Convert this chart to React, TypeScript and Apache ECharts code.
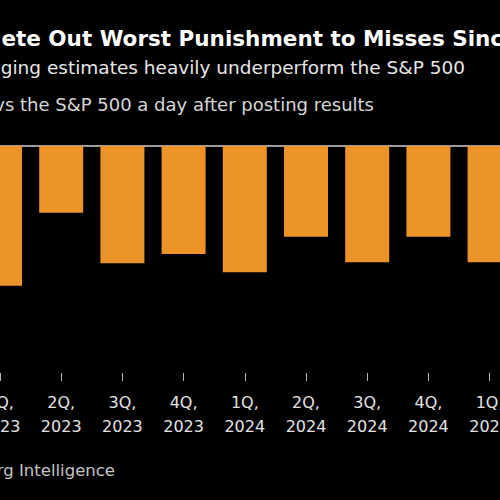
// App.tsx
import React, { useEffect, useRef } from "react";
import * as echarts from "echarts";

const quarters = ["1Q", "2Q", "3Q", "4Q", "1Q", "2Q", "3Q", "4Q", "1Q"];
const years = ["2023", "2023", "2023", "2023", "2024", "2024", "2024", "2024", "2025"];
// next-day performance vs the S&P 500 of companies missing estimates (%)
const relativeMove = [-3.08, -1.47, -2.58, -2.38, -2.78, -2.0, -2.56, -2.0, -2.56];

const title = "Mete Out Worst Punishment to Misses Since 2019";
const subtitle = "Companies lagging estimates heavily underperform the S&P 500";
const note = "Average move vs the S&P 500 a day after posting results";
const source = "Source: Bloomberg Intelligence";

export default function App() {
  const chartRef = useRef<HTMLDivElement>(null);

  useEffect(() => {
    if (!chartRef.current) return;
    document.body.style.margin = "0";
    document.body.style.background = "#000";

    const chart = echarts.init(chartRef.current, null, { renderer: "svg" });
    const categories = quarters.map((q, i) => `${q},\n${years[i]}`);

    chart.setOption({
      animation: false,
      backgroundColor: "#000",
      grid: {
        left: -30.6,
        top: 146,
        width: 550.8,
        height: 227,
        containLabel: false,
        outerBoundsMode: "none",
      },
      xAxis: {
        type: "category",
        data: categories,
        position: "bottom",
        axisLine: { show: true, onZero: false, lineStyle: { color: "rgba(0,0,0,0)" } },
        axisTick: { show: true, alignWithLabel: true, length: 8, lineStyle: { color: "#b5b5b5", width: 1 } },
        axisLabel: {
          color: "#e2e2e2",
          fontFamily: "DejaVu Sans",
          fontSize: 16,
          lineHeight: 24,
          margin: 17,
          interval: 0,
        },
      },
      yAxis: {
        type: "value",
        min: -5,
        max: 0,
        interval: 5,
        axisLabel: { show: false },
        axisLine: { show: false },
        axisTick: { show: false },
        splitLine: { show: true, lineStyle: { color: ["rgba(0,0,0,0)", "#d0d0d0"], width: 1.5 } },
      },
      series: [
        {
          type: "bar",
          data: relativeMove,
          barWidth: 44,
          itemStyle: { color: "#EC9329" },
        },
      ],
      graphic: [
        {
          type: "text",
          left: -20,
          top: 27,
          style: { text: title, fill: "#ffffff", font: "bold 21.5px 'DejaVu Sans'" },
        },
        {
          type: "text",
          x: 465,
          y: 67,
          style: {
            text: subtitle,
            fill: "#e6e6e6",
            font: "18.5px 'DejaVu Sans'",
            textAlign: "right",
            textVerticalAlign: "middle",
          },
        },
        {
          type: "text",
          x: 374,
          y: 104,
          style: {
            text: note,
            fill: "#d6d6d6",
            font: "18px 'DejaVu Sans'",
            textAlign: "right",
            textVerticalAlign: "middle",
          },
        },
        {
          type: "text",
          x: 115,
          y: 470,
          style: {
            text: source,
            fill: "#c4c4c4",
            font: "16.5px 'DejaVu Sans'",
            textAlign: "right",
            textVerticalAlign: "middle",
          },
        },
      ],
    });

    return () => {
      chart.dispose();
    };
  }, []);

  return (
    <div
      ref={chartRef}
      style={{ position: "fixed", left: 0, top: 0, width: "500px", height: "500px", background: "#000" }}
    />
  );
}
